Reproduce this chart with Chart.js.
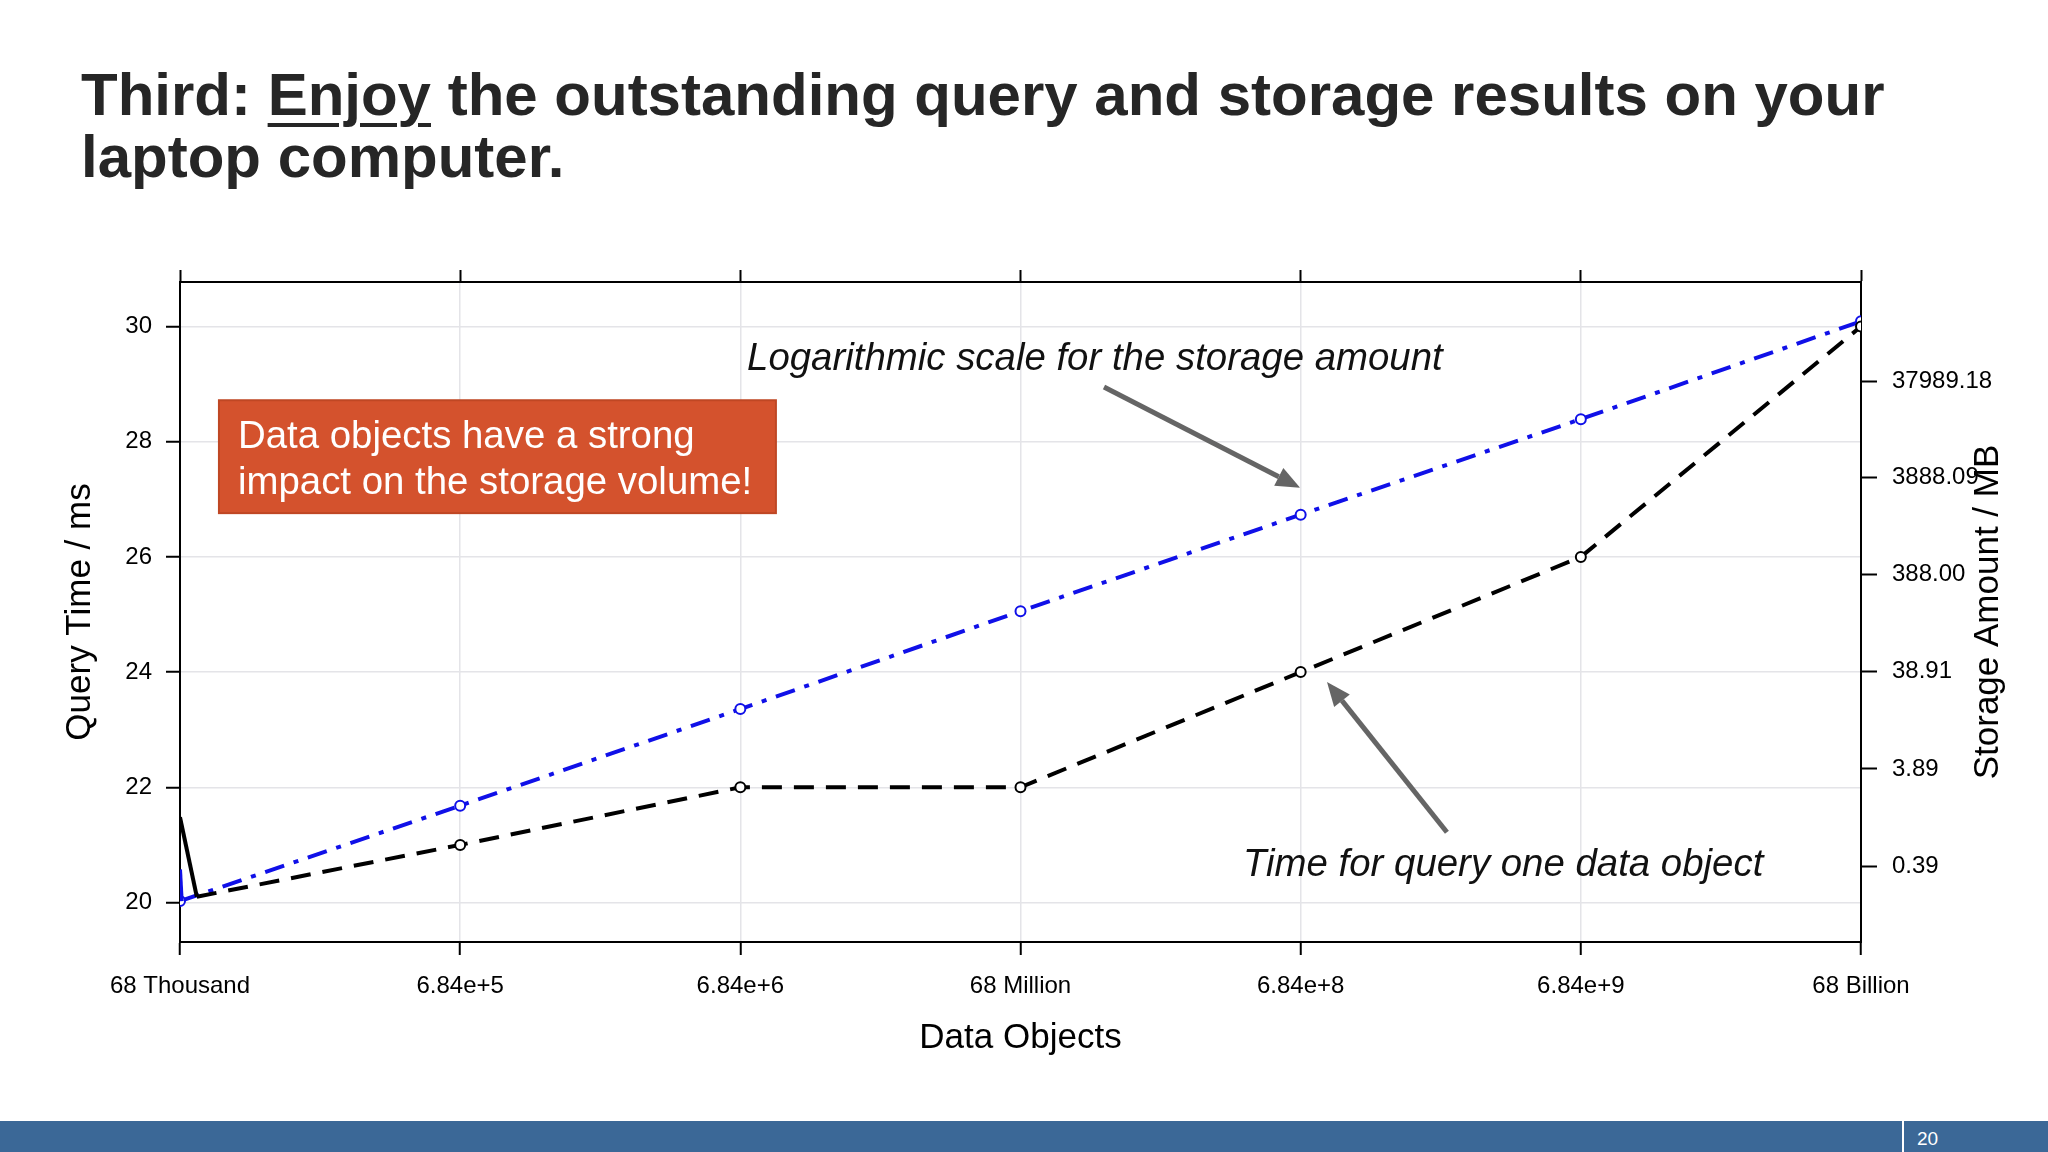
<!DOCTYPE html>
<html>
<head>
<meta charset="utf-8">
<script src="https://cdn.jsdelivr.net/npm/chart.js@4/dist/chart.umd.min.js"></script>
<style>
  body { margin: 0; width: 2048px; height: 1152px; background: #fff; overflow: hidden; position: relative;
         font-family: "Liberation Sans", Arial, sans-serif; }
  .chart-box { position: absolute; left: 0; top: 0; width: 2048px; height: 1120px; }
  .title { position: absolute; left: 81px; top: 64px; font-weight: bold; font-size: 60px; line-height: 62px; color: #262626; }
  .title u { text-decoration-thickness: 4px; text-underline-offset: 8px; }
  .footer { position: absolute; left: 0; top: 1121px; width: 2048px; height: 31px; background: #3b6897; }
  .footer .sep { position: absolute; left: 1902px; top: 0; width: 2px; height: 31px; background: #fff; }
  .footer .page { position: absolute; left: 1917px; top: 7px; font-size: 19px; color: #fff; }
</style>
</head>
<body>
<div class="chart-box"><canvas id="chart"></canvas></div>
<div class="title">Third: <u>Enjoy</u> the outstanding query and storage results on your<br>laptop computer.</div>
<div class="footer"><div class="sep"></div><div class="page">20</div></div>
<script>
// x axis: data objects, one step = factor 10
const categories = ["68 Thousand", "6.84e+5", "6.84e+6", "68 Million", "6.84e+8", "6.84e+9", "68 Billion"];

// query time per data object (ms), left axis
const queryX = [0.06, 1, 2, 3, 4, 5, 6];
const queryTimeMs = [20.1, 21, 22, 22, 24, 26, 30];
const queryLeadX = [0, 0.06];
const queryLeadMs = [21.48, 20.1];
const queryTicks = [20, 22, 24, 26, 28, 30];

// storage amount (MB), right log axis
const storageX = [0, 1, 2, 3, 4, 5, 6];
const storageMb = [0.17, 1.63, 16.1, 164, 1615, 15530, 157800];
const storageLeadX = [0, 0.006];
const storageLeadMb = [0.36, 0.17];
const storageTicks = [0.39, 3.89, 38.91, 388.00, 3888.09, 37989.18];

const FONT = '"Liberation Sans", Arial, sans-serif';
Chart.defaults.font.family = FONT;
Chart.defaults.color = "#000";

function pts(xs, ys) {
  return xs.map((x, i) => ({ x: x, y: ys[i] }));
}

// notes placed in data units (x = category index, y = query time)
const noteBox = { x0: 0.139, x1: 2.127, y0: 26.76, y1: 28.72,
  lines: ["Data objects have a strong", "impact on the storage volume!"] };
const arrows = [
  { from: [3.298, 28.95], to: [3.998, 27.20] },
  { from: [4.522, 21.22], to: [4.094, 23.83] },
];
const notes = [
  { text: "Logarithmic scale for the storage amount", x: 2.024, y: 29.245 },
  { text: "Time for query one data object", x: 3.794, y: 20.46 },
];

function drawArrow(ctx, x1, y1, x2, y2) {
  const ang = Math.atan2(y2 - y1, x2 - x1);
  const headLen = 24, headHalf = 10;
  const bx = x2 - headLen * Math.cos(ang), by = y2 - headLen * Math.sin(ang);
  ctx.strokeStyle = "#656565";
  ctx.fillStyle = "#656565";
  ctx.lineWidth = 5;
  ctx.beginPath();
  ctx.moveTo(x1, y1);
  ctx.lineTo(bx, by);
  ctx.stroke();
  ctx.beginPath();
  ctx.moveTo(x2, y2);
  ctx.lineTo(bx + headHalf * Math.sin(ang), by - headHalf * Math.cos(ang));
  ctx.lineTo(bx - headHalf * Math.sin(ang), by + headHalf * Math.cos(ang));
  ctx.closePath();
  ctx.fill();
}

const slideNotes = {
  id: "slideNotes",
  afterDatasetsDraw(chart) {
    const { ctx, scales } = chart;
    const px = v => scales.x.getPixelForValue(v);
    const py = v => scales.y.getPixelForValue(v);
    ctx.save();

    const bx = px(noteBox.x0), by = py(noteBox.y1);
    const bw = px(noteBox.x1) - bx, bh = py(noteBox.y0) - by;
    ctx.fillStyle = "#d4522d";
    ctx.fillRect(bx, by, bw, bh);
    ctx.strokeStyle = "#bf4724";
    ctx.lineWidth = 2;
    ctx.strokeRect(bx, by, bw, bh);
    ctx.fillStyle = "#fff";
    ctx.font = "38.4px " + FONT;
    ctx.textBaseline = "alphabetic";
    noteBox.lines.forEach((t, i) => ctx.fillText(t, bx + 19, by + 48 + i * 46));

    arrows.forEach(a => drawArrow(ctx, px(a.from[0]), py(a.from[1]), px(a.to[0]), py(a.to[1])));

    ctx.fillStyle = "#111";
    ctx.font = "italic 38.4px " + FONT;
    notes.forEach(n => ctx.fillText(n.text, px(n.x), py(n.y)));

    // right axis title reads bottom to top
    const r = scales.y1;
    ctx.translate(r.right - 60, (chart.chartArea.top + chart.chartArea.bottom) / 2);
    ctx.rotate(-Math.PI / 2);
    ctx.textAlign = "center";
    ctx.textBaseline = "middle";
    ctx.fillStyle = "#000";
    ctx.font = "35px " + FONT;
    ctx.fillText("Storage Amount / MB", 0, 0);
    ctx.restore();
  }
};

const gridColor = "#e4e4e8";

new Chart(document.getElementById("chart"), {
  type: "line",
  data: {
    datasets: [
      {
        label: "query lead",
        data: pts(queryLeadX, queryLeadMs),
        yAxisID: "y",
        borderColor: "#000",
        borderWidth: 4,
        pointRadius: 0,
      },
      {
        label: "Query Time",
        data: pts(queryX, queryTimeMs),
        yAxisID: "y",
        borderColor: "#000",
        borderWidth: 4,
        borderDash: [20, 12],
        pointRadius: queryX.map((x, i) => (i === 0 ? 0 : 5)),
        pointBorderWidth: 2,
        pointBackgroundColor: "#fff",
        pointBorderColor: "#000",
      },
      {
        label: "storage lead",
        data: pts(storageLeadX, storageLeadMb),
        yAxisID: "y1",
        borderColor: "#1010e8",
        borderWidth: 4,
        pointRadius: 0,
      },
      {
        label: "Storage Amount",
        data: pts(storageX, storageMb),
        yAxisID: "y1",
        borderColor: "#1010e8",
        borderWidth: 4,
        borderDash: [20, 10, 5, 10],
        pointRadius: 5,
        pointBorderWidth: 2,
        pointBackgroundColor: "#fff",
        pointBorderColor: "#1010e8",
      },
    ],
  },
  options: {
    responsive: true,
    maintainAspectRatio: false,
    animation: false,
    layout: { padding: { top: 270, left: 0, right: 0, bottom: 0 } },
    plugins: { legend: { display: false }, tooltip: { enabled: false } },
    elements: { line: { tension: 0 } },
    scales: {
      x: {
        type: "linear",
        position: "bottom",
        min: 0,
        max: 6,
        afterFit: s => { s.height = 178; },
        ticks: {
          stepSize: 1,
          padding: 17,
          font: { size: 24 },
          color: "#000",
          maxRotation: 0,
          autoSkip: false,
          callback: v => categories[Math.round(v)],
        },
        grid: { color: gridColor, lineWidth: 1.5, tickColor: "#000", tickLength: 13, tickWidth: 2 },
        border: { display: true, color: "#000", width: 2 },
        title: { display: true, text: "Data Objects", font: { size: 35, lineHeight: 1.2 }, color: "#000", padding: { top: 0, bottom: 61 } },
      },
      x2: {
        type: "linear",
        position: "top",
        min: 0,
        max: 6,
        afterFit: s => { s.height = 12; },
        ticks: { display: false, stepSize: 1 },
        grid: { drawOnChartArea: false, tickColor: "#000", tickLength: 12, tickWidth: 2 },
        border: { display: true, color: "#000", width: 2 },
      },
      y: {
        type: "linear",
        position: "left",
        min: 19.314,
        max: 30.773,
        afterFit: s => { s.width = 180; },
        afterBuildTicks: s => { s.ticks = queryTicks.map(v => ({ value: v })); },
        ticks: { padding: 14, font: { size: 24 }, color: "#000" },
        grid: { color: gridColor, lineWidth: 1.5, tickColor: "#000", tickLength: 14, tickWidth: 2 },
        border: { display: true, color: "#000", width: 2 },
        title: { display: true, text: "Query Time / ms", font: { size: 35, lineHeight: 1.2 }, color: "#000", padding: { top: 59, bottom: 0 } },
      },
      y1: {
        type: "logarithmic",
        position: "right",
        min: 0.0644,
        max: 401000,
        afterFit: s => { s.width = 187; },
        afterBuildTicks: s => { s.ticks = storageTicks.map(v => ({ value: v })); },
        ticks: { padding: 15, font: { size: 24 }, color: "#000", callback: v => Number(v).toFixed(2) },
        grid: { drawOnChartArea: false, tickColor: "#000", tickLength: 16, tickWidth: 2 },
        border: { display: true, color: "#000", width: 2 },
      },
    },
  },
  plugins: [slideNotes],
});
</script>
</body>
</html>
